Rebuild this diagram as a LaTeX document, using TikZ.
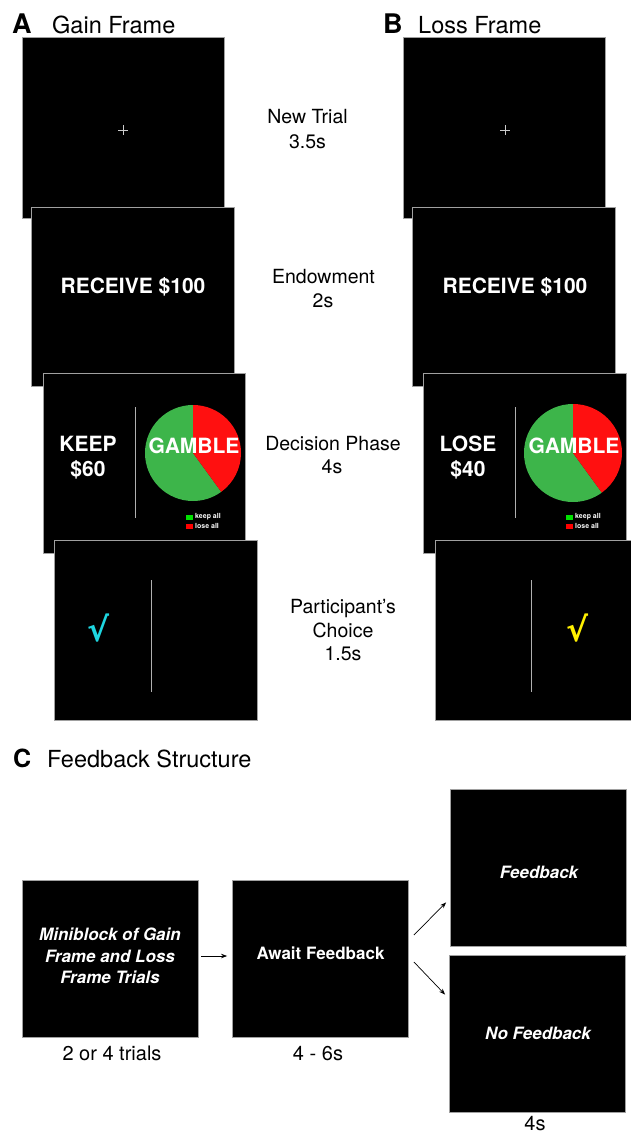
\documentclass[tikz,border=0pt]{standalone}
\usepackage{fontspec}
\setmainfont{TeX Gyre Heros}
\newfontfamily\dejavub{DejaVu Sans}[BoldFont={DejaVu Sans Bold}]
\usetikzlibrary{arrows.meta}
\definecolor{scrborder}{HTML}{A0A0A0}
\definecolor{piegreen}{HTML}{3DB54A}
\definecolor{piered}{HTML}{FF1010}
\definecolor{leggreen}{HTML}{00E000}
\definecolor{chkcyan}{HTML}{1ED6E0}
\definecolor{chkyellow}{HTML}{FFF000}
\definecolor{divgray}{HTML}{B0B0B0}
\tikzset{
  scr/.style={fill=black, draw=scrborder, line width=0.9pt, anchor=north west, inner sep=0pt},
  fbbox/.style={fill=black, draw=scrborder, line width=0.9pt, minimum width=176pt, minimum height=157pt, inner sep=0pt},
  lab/.style={font=\fontsize{19.5}{24}\selectfont, anchor=base, inner sep=0pt},
  ttl/.style={font=\fontsize{23.5}{28}\selectfont, anchor=base west, inner sep=0pt},
  ltr/.style={font=\fontsize{27}{30}\selectfont\bfseries, anchor=base west, inner sep=0pt},
  big/.style={font=\fontsize{21}{25}\selectfont\bfseries, text=white, anchor=base, inner sep=0pt},
  leg/.style={font=\fontsize{7}{8}\selectfont\bfseries, text=white, anchor=west, inner sep=0pt},
  fbtxt/.style={font=\fontsize{17}{21.5}\selectfont\bfseries, text=white, anchor=base, inner sep=0pt},
  fbit/.style={fbtxt, font=\fontsize{17}{21.5}\selectfont\bfseries\itshape},
  divider/.style={draw=divgray, line width=1pt},
  chk/.style={font=\dejavub\bfseries\fontsize{33}{35}\selectfont, inner sep=0pt},
  conn/.style={-{Stealth[length=6pt,width=4.5pt]}, line width=0.7pt, black},
}
\begin{document}
\begin{tikzpicture}[x=1pt,y=-1pt]
\useasboundingbox (0,0) rectangle (631,1133);
\fill[white] (0,0) rectangle (631,1133);

% ---------- Titles ----------
\node[ltr] (tA) at (12,33) {A};
\node[ttl] (tAt) at (52,33) {Gain Frame};
\node[ltr] (tB) at (383,33) {B};
\node[ttl] (tBt) at (418,33) {Loss Frame};
\node[ltr, font=\fontsize{25}{28}\selectfont\bfseries] (tC) at (13,767) {C};
\node[ttl] (tCt) at (47,767) {Feedback Structure};

% ---------- Panel A ----------
\node[scr, minimum width=202pt, minimum height=181pt] (a1) at (22,37) {};
\draw[white!80!black, line width=0.7pt] (118,130) -- (128,130) (123,125) -- (123,135);
\node[scr, minimum width=203pt, minimum height=179pt] (a2) at (31,207) {};
\node[big] (a2t) at (133,293) {RECEIVE \$100};
\node[scr, minimum width=202pt, minimum height=180pt] (a3) at (43,373) {};
\node[big] (a3k) at (88,451) {KEEP};
\node[big] (a3m) at (88,476) {\$60};
\draw[divider] (135,407) -- (135,518);
\fill[piegreen] (193,453) -- ++(-90:48) arc[start angle=-90, end angle=-306, radius=48] -- cycle;
\fill[piered] (193,453) -- ++(-90:48) arc[start angle=-90, end angle=54, radius=48] -- cycle;
\node[big] (a3g) at (194,453) {GAMBLE};
\fill[leggreen] (186,514.5) rectangle (193,519.5);
\fill[red] (186,523.5) rectangle (193,528.5);
\node[leg] (a3l1) at (195,517) {keep all};
\node[leg] (a3l2) at (195,526) {lose all};
\node[scr, minimum width=203pt, minimum height=180pt] (a4) at (54,540) {};
\draw[divider] (151,580) -- (151,692);
\node[chk, text=chkcyan] (a4c) at (99,628) {√};

% ---------- Panel B ----------
\node[scr, minimum width=202pt, minimum height=181pt] (b1) at (403,37) {};
\draw[white!80!black, line width=0.7pt] (500,130) -- (510,130) (505,125) -- (505,135);
\node[scr, minimum width=203pt, minimum height=179pt] (b2) at (412,207) {};
\node[big] (b2t) at (515,293) {RECEIVE \$100};
\node[scr, minimum width=203pt, minimum height=180pt] (b3) at (423,373) {};
\node[big] (b3k) at (468,451) {LOSE};
\node[big] (b3m) at (468,476) {\$40};
\draw[divider] (515,407) -- (515,518);
\fill[piegreen] (573,453) -- ++(-90:49) arc[start angle=-90, end angle=-306, radius=49] -- cycle;
\fill[piered] (573,453) -- ++(-90:49) arc[start angle=-90, end angle=54, radius=49] -- cycle;
\node[big] (b3g) at (574,453) {GAMBLE};
\fill[leggreen] (566,514.5) rectangle (573,519.5);
\fill[red] (566,523.5) rectangle (573,528.5);
\node[leg] (b3l1) at (575,517) {keep all};
\node[leg] (b3l2) at (575,526) {lose all};
\node[scr, minimum width=203pt, minimum height=180pt] (b4) at (435,540) {};
\draw[divider] (531,580) -- (531,692);
\node[chk, text=chkyellow] (b4c) at (577,628) {√};

% ---------- Middle labels ----------
\node[lab] (l1a) at (307.5,123) {New Trial};
\node[lab] (l1b) at (307.5,148) {3.5s};
\node[lab] (l2a) at (323.5,283) {Endowment};
\node[lab] (l2b) at (323,307) {2s};
\node[lab] (l3a) at (333,450) {Decision Phase};
\node[lab] (l3b) at (332,473) {4s};
\node[lab] (l4a) at (343,613) {Participant’s};
\node[lab] (l4b) at (343,637) {Choice};
\node[lab] (l4c) at (343,660) {1.5s};

% ---------- Panel C ----------
\node[fbbox] (mini) at (110,958.5) {};
\node[fbit] (mt1) at (110,940) {Miniblock of Gain};
\node[fbit] (mt2) at (110,962) {Frame and Loss};
\node[fbit] (mt3) at (110,983) {Frame Trials};
\node[fbbox] (await) at (320.5,958.5) {};
\node[fbtxt] (awt) at (320.5,959) {Await Feedback};
\node[fbbox] (fb) at (538.5,867.5) {};
\node[fbit] (fbt) at (539,878) {Feedback};
\node[fbbox] (nofb) at (537.5,1033.5) {};
\node[fbit] (nofbt) at (538,1039) {No Feedback};

\node[lab, font=\fontsize{20}{24}\selectfont] (d1) at (112,1060) {2 or 4 trials};
\node[lab, font=\fontsize{20}{24}\selectfont] (d2) at (318,1060) {4 - 6s};
\node[lab, font=\fontsize{20}{24}\selectfont] (d3) at (535,1130) {4s};

\draw[conn] ([shift={(3,-2.5)}]mini.east) -- ([shift={(-5,-2.5)}]await.west);
\draw[conn] ([shift={(5,-23.5)}]await.east) -- ([shift={(-4,-44)}]fb.south west);
\draw[conn] ([shift={(5,3.5)}]await.east) -- ([shift={(-4,40)}]nofb.north west);
\end{tikzpicture}
\end{document}
